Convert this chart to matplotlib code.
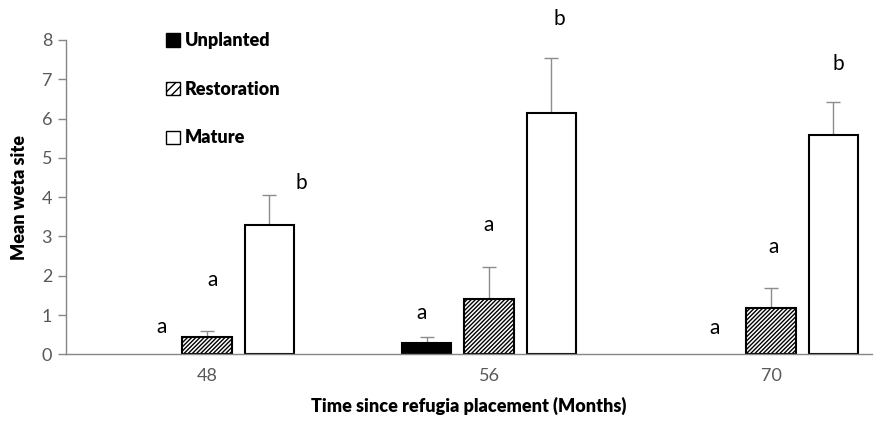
import matplotlib
matplotlib.use("Agg")
import matplotlib.pyplot as plt
from matplotlib.patches import Patch
import numpy as np

plt.rcParams['font.family'] = ['Lato', 'DejaVu Sans']
plt.rcParams['hatch.linewidth'] = 1.0

# Data
months = ["48", "56", "70"]
unplanted = [0.0, 0.29, 0.0]
unplanted_err = [0.0, 0.15, 0.0]
restoration = [0.44, 1.42, 1.17]
restoration_err = [0.16, 0.80, 0.51]
mature = [3.30, 6.15, 5.59]
mature_err = [0.75, 1.40, 0.84]

# Significance letters: (group, x offset, y, letter)
letter_group = [0, 0, 0, 1, 1, 1, 2, 2, 2]
letter_dx = [-0.16, 0.02, 0.335, -0.24, 0.0, 0.25, -0.20, 0.01, 0.24]
letter_y = [0.69, 1.89, 4.35, 1.05, 3.29, 8.53, 0.66, 2.73, 7.40]
letter_txt = ["a", "a", "b", "a", "a", "b", "a", "a", "b"]

x = np.arange(len(months))
width = 0.174
offset = 0.22

fig = plt.figure(figsize=(8.76, 4.26), dpi=100)
ax = fig.add_axes([66 / 876, 1 - 354.3 / 426, 806 / 876, 314.3 / 426])

series = [
    (unplanted, unplanted_err, "black", "", -offset),
    (restoration, restoration_err, "white", "////////", 0.0),
    (mature, mature_err, "white", "", offset),
]
for vals, errs, fc, hatch, dx in series:
    lws = [1.5 if v > 0 else 0 for v in vals]
    ax.bar(x + dx, vals, width, color=fc, edgecolor="black", linewidth=lws,
           hatch=hatch, zorder=2)
    for xi, v, e in zip(x + dx, vals, errs):
        if v > 0:
            ax.errorbar(xi, v, yerr=[[0], [e]], color="#8c8c8c", linewidth=1,
                        capsize=5, capthick=1, zorder=1)

for g, dx, y, t in zip(letter_group, letter_dx, letter_y, letter_txt):
    ax.text(x[g] + dx, y, t, ha="center", va="center", fontsize=15)

ax.set_xlim(-0.5, -0.5 + 806 / 282)
ax.set_ylim(0, 8)
ax.set_xticks(x)
ax.set_xticklabels(months)
ax.set_yticks(range(0, 9))
ax.tick_params(axis="x", length=0, pad=10, labelsize=13, labelcolor="#595959")
ax.tick_params(axis="y", length=6, width=1, color="#868686", pad=4,
               labelsize=13, labelcolor="#595959")
for s in ["top", "right"]:
    ax.spines[s].set_visible(False)
for s in ["left", "bottom"]:
    ax.spines[s].set_color("#868686")
    ax.spines[s].set_linewidth(1)

ax.set_xlabel("Time since refugia placement (Months)", fontsize=13,
              fontweight="heavy", labelpad=9)
ax.set_ylabel("Mean weta site", fontsize=13, fontweight="heavy", labelpad=10)

handles = [
    Patch(facecolor="black", edgecolor="black", linewidth=1),
    Patch(facecolor="white", edgecolor="black", linewidth=1, hatch="////"),
    Patch(facecolor="white", edgecolor="black", linewidth=1),
]
fig.legend(handles, ["Unplanted", "Restoration", "Mature"],
           loc="upper left", bbox_to_anchor=(150 / 876, 1 - 16 / 426),
           frameon=False, handlelength=0.75, handleheight=0.75,
           handletextpad=0.3, labelspacing=1.75,
           prop={"weight": "heavy", "size": 13})

fig.savefig("out.png", dpi=100)
